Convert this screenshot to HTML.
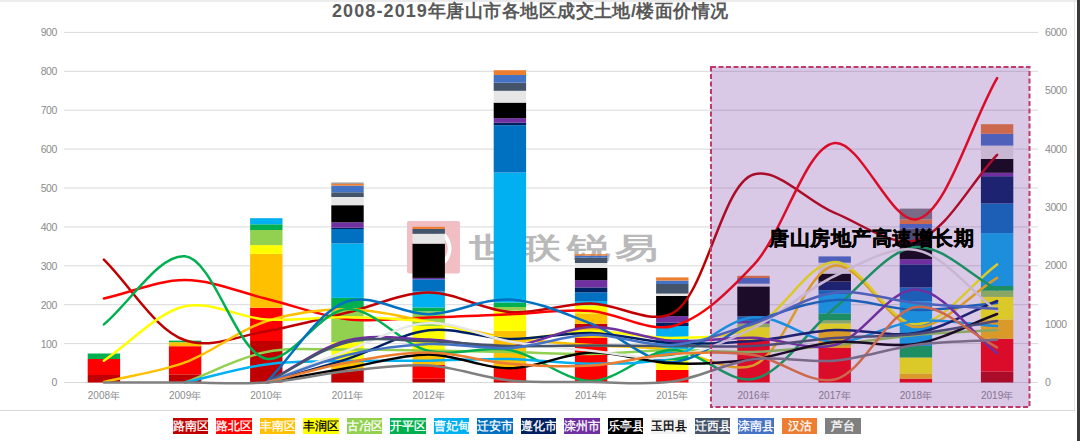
<!DOCTYPE html>
<html><head><meta charset="utf-8"><style>
html,body{margin:0;padding:0;background:#fff;}
body{width:1080px;height:441px;position:relative;overflow:hidden;font-family:"Liberation Sans",sans-serif;}
svg{position:absolute;left:0;top:0;}
.ax{font-size:10.5px;letter-spacing:-0.45px;fill:#8c8c8c;font-family:"Liberation Sans",sans-serif;}
.yr{font-size:10px;fill:#8c8c8c;font-family:"Liberation Sans",sans-serif;}
.wm{font-size:34px;font-weight:bold;fill:#b9b9b9;letter-spacing:5.2px;font-family:"Liberation Sans",sans-serif;}
.ann{font-size:20.4px;letter-spacing:0.55px;font-weight:bold;fill:#000;stroke:#000;stroke-width:0.45px;font-family:"Liberation Sans",sans-serif;}
.td{font-size:18px;letter-spacing:1.1px;}
.title{position:absolute;left:332px;top:-1.3px;font-size:18px;letter-spacing:0.45px;font-weight:bold;color:#595959;white-space:nowrap;}
.lg{position:absolute;top:418px;width:35.5px;height:16px;line-height:17.4px;overflow:hidden;font-size:12px;-webkit-text-stroke:0.3px currentColor;display:flex;justify-content:center;white-space:nowrap;}
.topband{position:absolute;left:0;top:0;width:1080px;height:2px;background:#ececec;}
.rbar{position:absolute;left:1077px;top:0;width:3px;height:441px;background:#3a3a3a;}
.vline{position:absolute;left:1074px;top:0;width:1px;height:410px;background:#e6e6e6;}
.hline{position:absolute;left:0;top:410px;width:1075px;height:1px;background:#d9d9d9;}
</style></head><body>
<div class="topband"></div>
<svg width="1080" height="441" viewBox="0 0 1080 441">
<line x1="64" x2="1038" y1="382.5" y2="382.5" stroke="#d9d9d9" stroke-width="1"/>
<line x1="64" x2="1038" y1="343.6" y2="343.6" stroke="#d9d9d9" stroke-width="1"/>
<line x1="64" x2="1038" y1="304.7" y2="304.7" stroke="#d9d9d9" stroke-width="1"/>
<line x1="64" x2="1038" y1="265.8" y2="265.8" stroke="#d9d9d9" stroke-width="1"/>
<line x1="64" x2="1038" y1="226.9" y2="226.9" stroke="#d9d9d9" stroke-width="1"/>
<line x1="64" x2="1038" y1="188.0" y2="188.0" stroke="#d9d9d9" stroke-width="1"/>
<line x1="64" x2="1038" y1="149.1" y2="149.1" stroke="#d9d9d9" stroke-width="1"/>
<line x1="64" x2="1038" y1="110.2" y2="110.2" stroke="#d9d9d9" stroke-width="1"/>
<line x1="64" x2="1038" y1="71.3" y2="71.3" stroke="#d9d9d9" stroke-width="1"/>
<line x1="64" x2="1038" y1="32.4" y2="32.4" stroke="#d9d9d9" stroke-width="1"/>
<text x="56.8" y="386.4" text-anchor="end" class="ax">0</text>
<text x="56.8" y="347.5" text-anchor="end" class="ax">100</text>
<text x="56.8" y="308.6" text-anchor="end" class="ax">200</text>
<text x="56.8" y="269.7" text-anchor="end" class="ax">300</text>
<text x="56.8" y="230.8" text-anchor="end" class="ax">400</text>
<text x="56.8" y="191.9" text-anchor="end" class="ax">500</text>
<text x="56.8" y="153.0" text-anchor="end" class="ax">600</text>
<text x="56.8" y="114.1" text-anchor="end" class="ax">700</text>
<text x="56.8" y="75.2" text-anchor="end" class="ax">800</text>
<text x="56.8" y="36.3" text-anchor="end" class="ax">900</text>
<text x="1045" y="386.0" class="ax">0</text>
<text x="1045" y="327.6" class="ax">1000</text>
<text x="1045" y="269.3" class="ax">2000</text>
<text x="1045" y="211.0" class="ax">3000</text>
<text x="1045" y="152.6" class="ax">4000</text>
<text x="1045" y="94.2" class="ax">5000</text>
<text x="1045" y="35.9" class="ax">6000</text>
<text x="103.9" y="399" text-anchor="middle" class="yr">2008年</text>
<text x="185.1" y="399" text-anchor="middle" class="yr">2009年</text>
<text x="266.3" y="399" text-anchor="middle" class="yr">2010年</text>
<text x="347.5" y="399" text-anchor="middle" class="yr">2011年</text>
<text x="428.7" y="399" text-anchor="middle" class="yr">2012年</text>
<text x="509.9" y="399" text-anchor="middle" class="yr">2013年</text>
<text x="591.1" y="399" text-anchor="middle" class="yr">2014年</text>
<text x="672.3" y="399" text-anchor="middle" class="yr">2015年</text>
<text x="753.5" y="399" text-anchor="middle" class="yr">2016年</text>
<text x="834.7" y="399" text-anchor="middle" class="yr">2017年</text>
<text x="915.9" y="399" text-anchor="middle" class="yr">2018年</text>
<text x="997.1" y="399" text-anchor="middle" class="yr">2019年</text>
<g><rect x="407" y="221" width="53" height="52.5" rx="2" fill="#F1BEC3"/><path d="M432,227 C458,231 458,266 432,270 L432,265 C453,261 453,236 432,232 Z" fill="#ffffff"/><text transform="translate(469,258) scale(1.25,0.84)" x="0" y="0" class="wm">世联锐易</text></g>
<rect x="87.7" y="375.00" width="32.4" height="7.50" fill="#C00000"/>
<rect x="87.7" y="359.00" width="32.4" height="16.00" fill="#FF0000"/>
<rect x="87.7" y="353.50" width="32.4" height="5.50" fill="#00B050"/>
<rect x="168.9" y="374.30" width="32.4" height="8.20" fill="#C00000"/>
<rect x="168.9" y="346.20" width="32.4" height="28.10" fill="#FF0000"/>
<rect x="168.9" y="342.20" width="32.4" height="4.00" fill="#FFC000"/>
<rect x="168.9" y="340.60" width="32.4" height="1.60" fill="#00B050"/>
<rect x="250.1" y="341.00" width="32.4" height="41.50" fill="#C00000"/>
<rect x="250.1" y="307.70" width="32.4" height="33.30" fill="#FF0000"/>
<rect x="250.1" y="253.90" width="32.4" height="53.80" fill="#FFC000"/>
<rect x="250.1" y="245.10" width="32.4" height="8.80" fill="#FFFF00"/>
<rect x="250.1" y="230.00" width="32.4" height="15.10" fill="#92D050"/>
<rect x="250.1" y="224.30" width="32.4" height="5.70" fill="#00B050"/>
<rect x="250.1" y="218.20" width="32.4" height="6.10" fill="#00B0F0"/>
<rect x="331.3" y="369.50" width="32.4" height="13.00" fill="#C00000"/>
<rect x="331.3" y="359.30" width="32.4" height="10.20" fill="#FFC000"/>
<rect x="331.3" y="342.20" width="32.4" height="17.10" fill="#FFFF00"/>
<rect x="331.3" y="308.00" width="32.4" height="34.20" fill="#92D050"/>
<rect x="331.3" y="297.90" width="32.4" height="10.10" fill="#00B050"/>
<rect x="331.3" y="243.50" width="32.4" height="54.40" fill="#00B0F0"/>
<rect x="331.3" y="229.00" width="32.4" height="14.50" fill="#0070C0"/>
<rect x="331.3" y="227.70" width="32.4" height="1.30" fill="#002060"/>
<rect x="331.3" y="222.30" width="32.4" height="5.40" fill="#7030A0"/>
<rect x="331.3" y="205.20" width="32.4" height="17.10" fill="#000000"/>
<rect x="331.3" y="197.00" width="32.4" height="8.20" fill="#E7E6E6"/>
<rect x="331.3" y="192.30" width="32.4" height="4.70" fill="#44546A"/>
<rect x="331.3" y="185.60" width="32.4" height="6.70" fill="#4472C4"/>
<rect x="331.3" y="183.60" width="32.4" height="2.00" fill="#ED7D31"/>
<rect x="331.3" y="182.60" width="32.4" height="1.00" fill="#7F7F7F"/>
<rect x="412.5" y="378.75" width="32.4" height="3.75" fill="#C00000"/>
<rect x="412.5" y="365.00" width="32.4" height="13.75" fill="#FF0000"/>
<rect x="412.5" y="351.30" width="32.4" height="13.70" fill="#FFC000"/>
<rect x="412.5" y="326.00" width="32.4" height="25.30" fill="#FFFF00"/>
<rect x="412.5" y="311.30" width="32.4" height="14.70" fill="#92D050"/>
<rect x="412.5" y="307.50" width="32.4" height="3.80" fill="#00B050"/>
<rect x="412.5" y="291.50" width="32.4" height="16.00" fill="#00B0F0"/>
<rect x="412.5" y="279.30" width="32.4" height="12.20" fill="#0070C0"/>
<rect x="412.5" y="277.90" width="32.4" height="1.40" fill="#7030A0"/>
<rect x="412.5" y="243.60" width="32.4" height="34.30" fill="#000000"/>
<rect x="412.5" y="233.80" width="32.4" height="9.80" fill="#E7E6E6"/>
<rect x="412.5" y="228.90" width="32.4" height="4.90" fill="#44546A"/>
<rect x="412.5" y="226.80" width="32.4" height="2.10" fill="#ED7D31"/>
<rect x="493.7" y="380.90" width="32.4" height="1.60" fill="#C00000"/>
<rect x="493.7" y="367.30" width="32.4" height="13.60" fill="#FF0000"/>
<rect x="493.7" y="330.90" width="32.4" height="36.40" fill="#FFC000"/>
<rect x="493.7" y="310.50" width="32.4" height="20.40" fill="#FFFF00"/>
<rect x="493.7" y="307.00" width="32.4" height="3.50" fill="#92D050"/>
<rect x="493.7" y="302.50" width="32.4" height="4.50" fill="#00B050"/>
<rect x="493.7" y="172.50" width="32.4" height="130.00" fill="#00B0F0"/>
<rect x="493.7" y="125.20" width="32.4" height="47.30" fill="#0070C0"/>
<rect x="493.7" y="122.80" width="32.4" height="2.40" fill="#002060"/>
<rect x="493.7" y="118.10" width="32.4" height="4.70" fill="#7030A0"/>
<rect x="493.7" y="102.60" width="32.4" height="15.50" fill="#000000"/>
<rect x="493.7" y="90.80" width="32.4" height="11.80" fill="#E7E6E6"/>
<rect x="493.7" y="82.70" width="32.4" height="8.10" fill="#44546A"/>
<rect x="493.7" y="75.00" width="32.4" height="7.70" fill="#4472C4"/>
<rect x="493.7" y="70.20" width="32.4" height="4.80" fill="#ED7D31"/>
<rect x="574.9" y="338.00" width="32.4" height="44.50" fill="#FF0000"/>
<rect x="574.9" y="328.00" width="32.4" height="10.00" fill="#FFC000"/>
<rect x="574.9" y="323.80" width="32.4" height="4.20" fill="#C00000"/>
<rect x="574.9" y="313.40" width="32.4" height="10.40" fill="#FFC000"/>
<rect x="574.9" y="305.20" width="32.4" height="8.20" fill="#FFFF00"/>
<rect x="574.9" y="301.10" width="32.4" height="4.10" fill="#00B0F0"/>
<rect x="574.9" y="292.30" width="32.4" height="8.80" fill="#0070C0"/>
<rect x="574.9" y="287.40" width="32.4" height="4.90" fill="#002060"/>
<rect x="574.9" y="280.10" width="32.4" height="7.30" fill="#7030A0"/>
<rect x="574.9" y="267.90" width="32.4" height="12.20" fill="#000000"/>
<rect x="574.9" y="263.00" width="32.4" height="4.90" fill="#E7E6E6"/>
<rect x="574.9" y="257.70" width="32.4" height="5.30" fill="#44546A"/>
<rect x="574.9" y="255.60" width="32.4" height="2.10" fill="#4472C4"/>
<rect x="574.9" y="254.20" width="32.4" height="1.40" fill="#ED7D31"/>
<rect x="656.1" y="370.00" width="32.4" height="12.50" fill="#FF0000"/>
<rect x="656.1" y="360.00" width="32.4" height="10.00" fill="#FFFF00"/>
<rect x="656.1" y="354.00" width="32.4" height="6.00" fill="#00B050"/>
<rect x="656.1" y="326.00" width="32.4" height="28.00" fill="#00B0F0"/>
<rect x="656.1" y="322.50" width="32.4" height="3.50" fill="#002060"/>
<rect x="656.1" y="316.10" width="32.4" height="6.40" fill="#7030A0"/>
<rect x="656.1" y="296.00" width="32.4" height="20.10" fill="#000000"/>
<rect x="656.1" y="293.60" width="32.4" height="2.40" fill="#E7E6E6"/>
<rect x="656.1" y="284.00" width="32.4" height="9.60" fill="#44546A"/>
<rect x="656.1" y="280.60" width="32.4" height="3.40" fill="#4472C4"/>
<rect x="656.1" y="277.40" width="32.4" height="3.20" fill="#ED7D31"/>
<rect x="737.3" y="340.00" width="32.4" height="42.50" fill="#FF0000"/>
<rect x="737.3" y="327.20" width="32.4" height="12.80" fill="#FFFF00"/>
<rect x="737.3" y="323.60" width="32.4" height="3.60" fill="#92D050"/>
<rect x="737.3" y="320.90" width="32.4" height="2.70" fill="#7030A0"/>
<rect x="737.3" y="316.40" width="32.4" height="4.50" fill="#0070C0"/>
<rect x="737.3" y="286.40" width="32.4" height="30.00" fill="#000000"/>
<rect x="737.3" y="283.70" width="32.4" height="2.70" fill="#E7E6E6"/>
<rect x="737.3" y="278.00" width="32.4" height="5.70" fill="#4472C4"/>
<rect x="737.3" y="275.80" width="32.4" height="2.20" fill="#ED7D31"/>
<rect x="818.5" y="348.00" width="32.4" height="34.50" fill="#FF0000"/>
<rect x="818.5" y="329.60" width="32.4" height="18.40" fill="#FFC000"/>
<rect x="818.5" y="323.50" width="32.4" height="6.10" fill="#FFFF00"/>
<rect x="818.5" y="320.40" width="32.4" height="3.10" fill="#92D050"/>
<rect x="818.5" y="313.30" width="32.4" height="7.10" fill="#00B050"/>
<rect x="818.5" y="294.00" width="32.4" height="19.30" fill="#00B0F0"/>
<rect x="818.5" y="290.20" width="32.4" height="3.80" fill="#0070C0"/>
<rect x="818.5" y="281.50" width="32.4" height="8.70" fill="#002060"/>
<rect x="818.5" y="273.60" width="32.4" height="7.90" fill="#000000"/>
<rect x="818.5" y="262.70" width="32.4" height="10.90" fill="#E7E6E6"/>
<rect x="818.5" y="256.40" width="32.4" height="6.30" fill="#4472C4"/>
<rect x="899.7" y="378.70" width="32.4" height="3.80" fill="#FF0000"/>
<rect x="899.7" y="373.70" width="32.4" height="5.00" fill="#FFC000"/>
<rect x="899.7" y="357.50" width="32.4" height="16.20" fill="#FFFF00"/>
<rect x="899.7" y="346.00" width="32.4" height="11.50" fill="#00B050"/>
<rect x="899.7" y="301.20" width="32.4" height="44.80" fill="#00B0F0"/>
<rect x="899.7" y="287.50" width="32.4" height="13.70" fill="#0070C0"/>
<rect x="899.7" y="264.30" width="32.4" height="23.20" fill="#002060"/>
<rect x="899.7" y="259.20" width="32.4" height="5.10" fill="#7030A0"/>
<rect x="899.7" y="240.00" width="32.4" height="19.20" fill="#000000"/>
<rect x="899.7" y="228.60" width="32.4" height="11.40" fill="#44546A"/>
<rect x="899.7" y="224.00" width="32.4" height="4.60" fill="#4472C4"/>
<rect x="899.7" y="219.40" width="32.4" height="4.60" fill="#ED7D31"/>
<rect x="899.7" y="208.60" width="32.4" height="10.80" fill="#7F7F7F"/>
<rect x="980.9" y="371.60" width="32.4" height="10.90" fill="#C00000"/>
<rect x="980.9" y="338.80" width="32.4" height="32.80" fill="#FF0000"/>
<rect x="980.9" y="319.50" width="32.4" height="19.30" fill="#FFC000"/>
<rect x="980.9" y="296.90" width="32.4" height="22.60" fill="#FFFF00"/>
<rect x="980.9" y="290.70" width="32.4" height="6.20" fill="#92D050"/>
<rect x="980.9" y="286.00" width="32.4" height="4.70" fill="#00B050"/>
<rect x="980.9" y="233.10" width="32.4" height="52.90" fill="#00B0F0"/>
<rect x="980.9" y="203.50" width="32.4" height="29.60" fill="#0070C0"/>
<rect x="980.9" y="176.20" width="32.4" height="27.30" fill="#002060"/>
<rect x="980.9" y="172.80" width="32.4" height="3.40" fill="#7030A0"/>
<rect x="980.9" y="158.90" width="32.4" height="13.90" fill="#000000"/>
<rect x="980.9" y="145.60" width="32.4" height="13.30" fill="#E7E6E6"/>
<rect x="980.9" y="133.80" width="32.4" height="11.80" fill="#4472C4"/>
<rect x="980.9" y="124.20" width="32.4" height="9.60" fill="#ED7D31"/>
<path d="M103.9,259.7 C131.0,286.6 155.3,329.9 185.1,340.3 C210.2,349.1 239.4,335.8 266.3,331.2 C293.5,326.6 320.5,319.0 347.5,312.5 C374.6,306.0 401.6,292.6 428.7,292.5 C455.8,292.4 482.7,310.2 509.9,312.0 C536.8,313.8 564.0,303.3 591.1,303.5 C618.2,303.7 648.5,325.1 672.3,313.3 C705.7,296.7 721.2,184.5 753.5,174.5 C777.6,167.0 807.3,201.8 834.7,212.9 C861.5,223.7 890.7,246.7 915.9,240.5 C945.5,233.2 970.0,183.4 997.1,154.8" fill="none" stroke="#C00000" stroke-width="2.5" stroke-linecap="round"/>
<path d="M103.9,298.5 C131.0,292.4 158.0,280.1 185.1,280.1 C212.2,280.1 239.3,292.2 266.3,298.8 C293.4,305.3 320.2,316.1 347.5,319.2 C374.4,322.2 401.6,318.3 428.7,317.5 C455.8,316.7 482.8,315.4 509.9,314.3 C537.0,313.2 564.1,309.0 591.1,311.0 C618.3,313.0 646.5,332.2 672.3,326.2 C700.9,319.5 728.5,291.7 753.5,265.2 C783.6,233.4 805.5,146.4 834.7,143.0 C860.2,140.1 891.0,223.2 915.9,219.5 C946.1,215.0 970.0,125.2 997.1,78.1" fill="none" stroke="#FF0000" stroke-width="2.5" stroke-linecap="round"/>
<path d="M103.9,382.0 C131.0,375.5 158.6,372.2 185.1,362.4 C212.8,352.2 238.5,330.1 266.3,321.2 C292.7,312.9 320.4,309.2 347.5,309.3 C374.6,309.4 401.7,316.9 428.7,321.7 C455.8,326.5 482.7,334.1 509.9,338.0 C536.9,341.9 564.0,343.0 591.1,345.0 C618.2,347.0 645.3,346.6 672.3,350.0 C699.5,353.4 728.8,374.3 753.5,365.3 C784.3,354.0 805.9,269.0 834.7,265.5 C860.4,262.4 888.3,325.6 915.9,327.0 C942.5,328.4 970.0,294.3 997.1,277.9" fill="none" stroke="#FFC000" stroke-width="2.5" stroke-linecap="round"/>
<path d="M103.9,360.7 C131.0,342.6 156.8,312.5 185.1,306.3 C211.1,300.6 239.1,317.7 266.3,319.5 C293.3,321.3 320.4,316.8 347.5,317.2 C374.6,317.6 401.8,318.4 428.7,322.0 C455.9,325.6 482.7,337.5 509.9,339.0 C536.9,340.5 564.0,331.2 591.1,331.0 C618.2,330.8 645.3,338.7 672.3,338.0 C699.4,337.3 727.9,338.0 753.5,327.0 C782.4,314.6 807.5,262.4 834.7,262.1 C861.7,261.8 888.7,324.0 915.9,324.2 C942.9,324.4 970.0,284.3 997.1,264.4" fill="none" stroke="#FFFF00" stroke-width="2.5" stroke-linecap="round"/>
<path d="M185.1,382.5 C212.2,372.3 238.8,357.4 266.3,352.0 C292.9,346.8 320.4,349.8 347.5,349.6 C374.6,349.4 401.6,350.1 428.7,350.5 C455.8,350.9 482.8,351.4 509.9,352.0 C537.0,352.6 564.0,354.3 591.1,354.0 C618.2,353.7 645.2,350.3 672.3,350.0 C699.4,349.7 726.5,352.8 753.5,352.0 C780.6,351.2 807.7,347.8 834.7,345.0 C861.8,342.2 888.8,337.5 915.9,335.0 C942.9,332.5 970.0,331.7 997.1,330.0" fill="none" stroke="#92D050" stroke-width="2.5" stroke-linecap="round"/>
<path d="M103.9,324.4 C131.0,301.7 159.3,253.7 185.1,256.3 C213.7,259.2 236.7,353.5 266.3,358.8 C291.5,363.2 320.2,310.0 347.5,309.0 C374.3,308.0 400.8,344.4 428.7,351.0 C455.0,357.2 483.3,345.3 509.9,350.0 C537.4,354.9 564.0,381.0 591.1,381.0 C618.2,381.0 645.2,350.3 672.3,350.0 C699.3,349.7 727.8,383.9 753.5,379.0 C782.3,373.5 807.2,330.3 834.7,308.0 C861.4,286.4 888.1,249.3 915.9,247.0 C942.3,244.9 970.0,275.3 997.1,289.5" fill="none" stroke="#00B050" stroke-width="2.5" stroke-linecap="round"/>
<path d="M185.1,382.5 C212.2,376.5 239.1,368.0 266.3,364.4 C293.2,360.9 320.4,361.7 347.5,361.1 C374.6,360.5 401.6,361.0 428.7,360.7 C455.8,360.4 482.8,358.5 509.9,359.0 C537.0,359.5 564.0,364.0 591.1,363.7 C618.2,363.4 645.9,364.3 672.3,357.0 C700.1,349.3 726.0,319.5 753.5,317.3 C780.2,315.2 807.6,341.4 834.7,342.0 C861.7,342.6 888.6,323.6 915.9,321.0 C942.8,318.4 970.0,324.3 997.1,326.0" fill="none" stroke="#00B0F0" stroke-width="2.5" stroke-linecap="round"/>
<path d="M266.3,382.5 C293.4,355.4 317.8,311.0 347.5,301.3 C372.7,293.1 401.7,314.5 428.7,314.2 C455.8,313.9 483.0,298.0 509.9,299.5 C537.1,301.0 564.4,313.4 591.1,323.6 C618.6,334.1 645.3,362.2 672.3,362.0 C699.4,361.8 725.9,332.4 753.5,322.0 C780.1,312.0 807.4,301.9 834.7,300.0 C861.6,298.1 888.8,309.5 915.9,310.0 C942.9,310.5 970.0,305.3 997.1,303.0" fill="none" stroke="#0070C0" stroke-width="2.5" stroke-linecap="round"/>
<path d="M266.3,382.5 C293.4,374.6 320.6,367.6 347.5,358.9 C374.7,350.2 401.3,333.5 428.7,330.3 C455.4,327.2 482.8,338.6 509.9,339.0 C536.9,339.4 564.1,332.3 591.1,333.0 C618.2,333.7 645.2,341.7 672.3,343.0 C699.3,344.3 726.5,343.2 753.5,341.0 C780.6,338.8 807.6,331.3 834.7,330.0 C861.7,328.7 889.3,337.5 915.9,333.0 C943.5,328.3 970.0,311.7 997.1,301.0" fill="none" stroke="#002060" stroke-width="2.5" stroke-linecap="round"/>
<path d="M266.3,382.5 C293.4,368.5 319.6,347.4 347.5,340.4 C373.8,333.8 401.7,338.6 428.7,339.6 C455.8,340.6 483.0,348.5 509.9,346.5 C537.1,344.4 563.9,327.9 591.1,327.0 C618.1,326.1 645.1,339.2 672.3,341.0 C699.3,342.8 726.5,337.1 753.5,337.8 C780.6,338.5 808.8,351.8 834.7,345.0 C863.2,337.6 889.2,288.6 915.9,289.5 C943.3,290.4 970.0,332.0 997.1,353.2" fill="none" stroke="#7030A0" stroke-width="2.5" stroke-linecap="round"/>
<path d="M266.3,382.5 C293.4,377.7 320.4,372.7 347.5,368.0 C374.6,363.3 401.6,354.4 428.7,354.4 C455.8,354.4 482.9,368.6 509.9,368.3 C537.0,368.0 564.0,353.3 591.1,352.5 C618.1,351.7 645.2,362.2 672.3,363.3 C699.3,364.4 726.6,362.7 753.5,359.2 C780.7,355.7 807.5,344.5 834.7,342.0 C861.6,339.5 889.3,348.4 915.9,344.0 C943.4,339.4 970.0,324.0 997.1,314.0" fill="none" stroke="#000000" stroke-width="2.5" stroke-linecap="round"/>
<path d="M266.3,382.5 C293.4,371.8 320.3,360.5 347.5,350.5 C374.4,340.6 401.4,324.4 428.7,323.0 C455.6,321.6 482.7,336.9 509.9,341.5 C536.8,346.1 564.0,348.1 591.1,350.7 C618.1,353.3 645.6,360.6 672.3,357.0 C699.8,353.3 727.1,340.9 753.5,328.0 C781.4,314.3 806.7,289.2 834.7,276.0 C861.0,263.6 889.9,245.6 915.9,250.0 C944.3,254.8 970.0,290.7 997.1,311.0" fill="none" stroke="#E7E6E6" stroke-width="2.5" stroke-linecap="round"/>
<path d="M266.3,382.5 C293.4,369.1 319.6,348.9 347.5,342.2 C373.9,335.9 401.6,340.7 428.7,341.3 C455.8,341.9 482.8,345.3 509.9,346.0 C537.0,346.7 564.0,345.5 591.1,345.5 C618.2,345.5 645.2,345.9 672.3,346.0 C699.4,346.1 726.5,347.3 753.5,346.0 C780.6,344.7 807.6,340.0 834.7,338.0 C861.7,336.0 888.9,336.8 915.9,334.0 C943.0,331.2 970.0,325.3 997.1,321.0" fill="none" stroke="#44546A" stroke-width="2.5" stroke-linecap="round"/>
<path d="M266.3,382.5 C293.4,373.3 320.1,361.4 347.5,355.0 C374.3,348.7 401.6,345.2 428.7,344.0 C455.7,342.8 482.9,349.5 509.9,348.0 C537.0,346.5 564.0,335.3 591.1,334.8 C618.1,334.3 645.4,346.8 672.3,345.0 C699.5,343.2 726.7,332.1 753.5,323.5 C780.8,314.7 807.2,296.0 834.7,292.7 C861.4,289.5 888.8,300.3 915.9,303.0 C942.9,305.7 970.0,306.9 997.1,308.8" fill="none" stroke="#4472C4" stroke-width="2.5" stroke-linecap="round"/>
<path d="M266.3,382.5 C293.4,375.9 320.3,367.6 347.5,362.6 C374.4,357.7 401.6,352.4 428.7,352.6 C455.8,352.8 482.8,361.5 509.9,363.7 C536.9,365.9 564.1,367.2 591.1,365.6 C618.2,364.0 645.2,355.8 672.3,354.0 C699.3,352.2 726.7,350.9 753.5,355.0 C780.9,359.2 809.1,385.2 834.7,379.5 C863.7,373.1 887.5,310.7 915.9,306.9 C941.8,303.4 970.0,333.9 997.1,347.4" fill="none" stroke="#ED7D31" stroke-width="2.5" stroke-linecap="round"/>
<path d="M103.9,382.5 C131.0,382.5 158.0,382.5 185.1,382.5 C212.2,382.5 239.3,384.4 266.3,382.5 C293.4,380.6 320.4,373.8 347.5,371.0 C374.5,368.2 401.7,364.0 428.7,365.5 C455.9,367.0 482.7,377.7 509.9,380.4 C536.9,383.1 564.0,381.8 591.1,382.0 C618.2,382.2 645.5,385.3 672.3,381.6 C699.6,377.8 726.2,362.6 753.5,359.2 C780.3,355.8 807.8,363.0 834.7,360.7 C861.9,358.3 888.7,348.5 915.9,345.0 C942.9,341.5 970.0,341.5 997.1,339.7" fill="none" stroke="#7F7F7F" stroke-width="2.5" stroke-linecap="round"/>
<rect x="711" y="67" width="318.5" height="340" fill="#7030A0" fill-opacity="0.26" stroke="#C0396B" stroke-width="2" stroke-dasharray="5,2.5"/>
<text x="769" y="244.5" class="ann">唐山房地产高速增长期</text>
</svg>
<div class="title"><span class="td">2008-2019</span>年唐山市各地区成交土地/楼面价情况</div>
<div class="hline"></div><div class="vline"></div><div class="rbar"></div>
<div class="lg" style="left:172.8px;background:#C00000;color:#fff">路南区</div>
<div class="lg" style="left:216.3px;background:#FF0000;color:#fff">路北区</div>
<div class="lg" style="left:259.8px;background:#FFC000;color:#fff">丰南区</div>
<div class="lg" style="left:303.3px;background:#FFFF00;color:#000">丰润区</div>
<div class="lg" style="left:346.8px;background:#92D050;color:#fff">古冶区</div>
<div class="lg" style="left:390.3px;background:#00B050;color:#fff">开平区</div>
<div class="lg" style="left:433.8px;background:#00B0F0;color:#fff">曹妃甸</div>
<div class="lg" style="left:477.3px;background:#0070C0;color:#fff">迁安市</div>
<div class="lg" style="left:520.8px;background:#002060;color:#fff">遵化市</div>
<div class="lg" style="left:564.3px;background:#7030A0;color:#fff">滦州市</div>
<div class="lg" style="left:607.8px;background:#000000;color:#fff">乐亭县</div>
<div class="lg" style="left:651.3px;background:#F2F2F2;color:#000">玉田县</div>
<div class="lg" style="left:694.8px;background:#44546A;color:#fff">迁西县</div>
<div class="lg" style="left:738.3px;background:#4472C4;color:#fff">滦南县</div>
<div class="lg" style="left:781.8px;background:#ED7D31;color:#fff">汉沽</div>
<div class="lg" style="left:825.3px;background:#7F7F7F;color:#fff">芦台</div>
</body></html>
